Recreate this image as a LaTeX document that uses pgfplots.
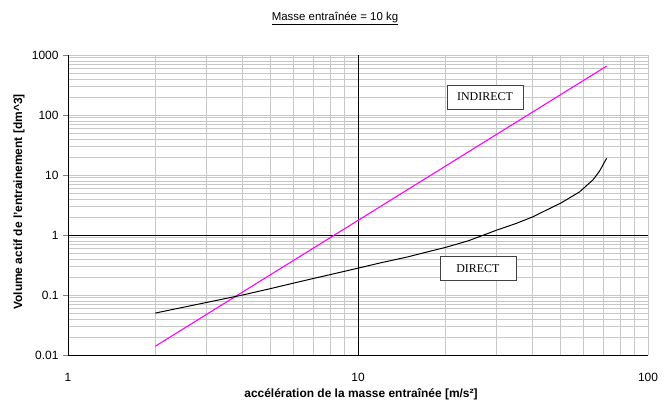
\documentclass[border=0pt]{standalone}
\usepackage{fontspec}
\setmainfont{Liberation Sans}
\newfontfamily\boxfont{Liberation Serif}
\usepackage{pgfplots}
\pgfplotsset{compat=1.18}

\definecolor{gridgray}{RGB}{200,200,200}
\definecolor{pinkline}{RGB}{255,0,255}

% acceleration [m/s^2] vs volume [dm^3]
\pgfplotstableread{
a    V
2    0.014
3    0.0473
4    0.112
5    0.219
6    0.378
7    0.600
8    0.896
10   1.75
15   5.91
20   14.0
30   47.3
40   112
50   219
60   378
72   653
}\indirect
\pgfplotstableread{
a    V
2    0.050
3    0.075
4    0.100
5    0.128
6    0.158
7    0.188
8    0.218
10   0.280
12   0.345
14.8 0.430
17   0.510
20   0.620
24   0.800
27   0.990
30   1.20
35   1.55
40   2.00
45   2.65
50   3.40
58   5.20
64.6 8.30
68   11.5
72   19.0
}\direct

\begin{document}
\begin{tikzpicture}
\useasboundingbox (-68bp,-46bp) rectangle (603bp,355bp);
\begin{axis}[
    scale only axis,
    width=580bp, height=300bp,
    xmode=log, ymode=log,
    xmin=1, xmax=100, ymin=0.01, ymax=1000,
    xtick={1,10,100}, xticklabels={1,10,100},
    ytick={0.01,0.1,1,10,100,1000},
    yticklabels={0.01,0.1,1,10,100,1000},
    axis lines*=left,
    axis line style={black, line width=0.8pt},
    grid=both,
    major grid style={gridgray, line width=0.6pt},
    minor grid style={gridgray, line width=0.6pt},
    tick align=outside,
    major tick length=5bp,
    minor tick length=0pt,
    x tick style={draw=none},
    ticklabel style={font=\fontsize{12}{14}\selectfont},
    xticklabel style={yshift=-10bp},
    yticklabel style={xshift=-1bp},
    clip=false,
]
\draw[black, line width=0.8pt] (axis cs:1,1) -- (axis cs:100,1);
\draw[black, line width=0.8pt] (axis cs:10,0.01) -- (axis cs:10,1000);
\addplot[pinkline, line width=1.1pt] table[x=a, y=V] {\indirect};
\addplot[black, line width=1.0pt] table[x=a, y=V] {\direct};
\node[draw=black!75, fill=white, line width=0.6pt, minimum width=76bp, minimum height=24bp,
      font=\boxfont\fontsize{12}{14}\selectfont] at (axis cs:27.4,200) {INDIRECT};
\node[draw=black!75, fill=white, line width=0.6pt, minimum width=76bp, minimum height=24bp,
      font=\boxfont\fontsize{12}{14}\selectfont] at (axis cs:25.9,0.28) {DIRECT};
\end{axis}
\node[font=\fontsize{11.5}{13}\selectfont] at (267bp,337bp) {\underline{Masse entraînée = 10 kg}};
\node[font=\bfseries\fontsize{12}{14}\selectfont] at (293bp,-39bp) {accélération de la masse entraînée [m/s²]};
\node[font=\bfseries\fontsize{12}{14}\selectfont, rotate=90] at (-49bp,153bp) {Volume actif de l'entrainement [dm\^{}3]};
\end{tikzpicture}
\end{document}
